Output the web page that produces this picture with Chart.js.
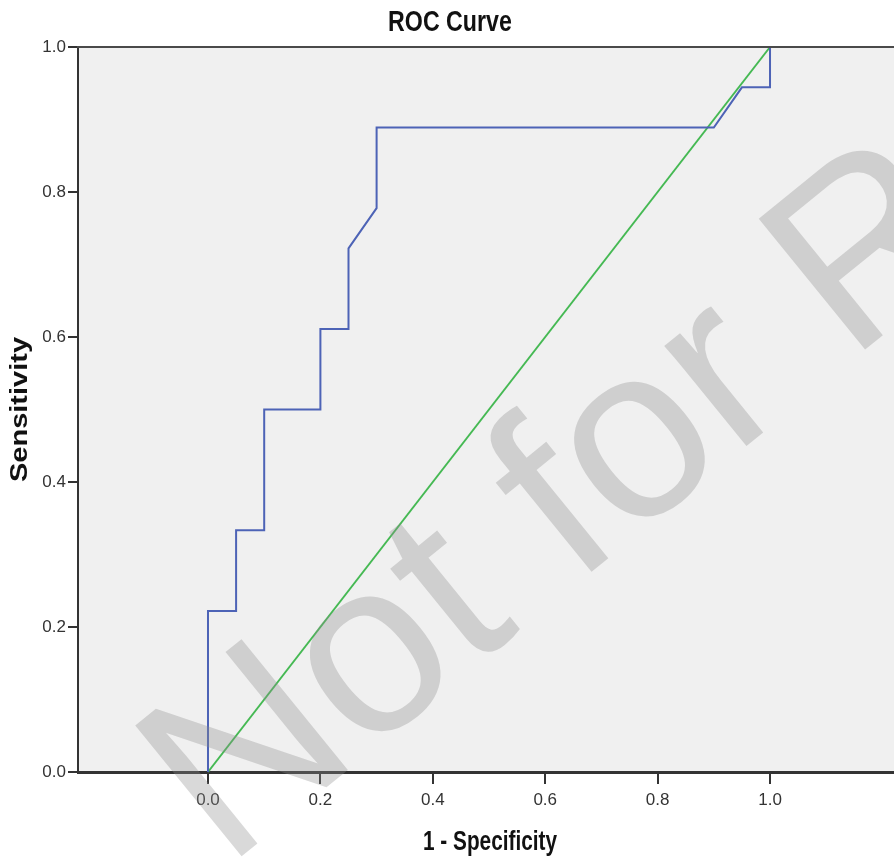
<!DOCTYPE html>
<html>
<head>
<meta charset="utf-8">
<script src="https://cdn.jsdelivr.net/npm/chart.js@4/dist/chart.umd.min.js"></script>
<style>
  html, body { margin: 0; padding: 0; background: #ffffff; }
  #wrap { width: 894px; height: 859px; position: relative; }
</style>
</head>
<body>
<div id="wrap"><canvas id="c" width="894" height="859"></canvas></div>
<script>
// ---- data ----
const fpr = [0, 0, 0.05, 0.05, 0.10, 0.10, 0.20, 0.20, 0.25, 0.25, 0.30, 0.30, 0.90, 0.95, 1.00, 1.00];
const tpr = [0, 0.2222, 0.2222, 0.3333, 0.3333, 0.5000, 0.5000, 0.6111, 0.6111, 0.7222, 0.7778, 0.8889, 0.8889, 0.9444, 0.9444, 1.0000];
const refX = [0, 1];
const refY = [0, 1];
const xTickValues = [0.0, 0.2, 0.4, 0.6, 0.8, 1.0];
const yTickValues = [0.0, 0.2, 0.4, 0.6, 0.8, 1.0];
const titleText = 'ROC Curve';
const xTitleText = '1 - Specificity';
const yTitleText = 'Sensitivity';
const watermarkText = 'Not for R';

const SANS = '"Liberation Sans", Arial, sans-serif';

function condensedText(ctx, text, x, y, font, sx, sy, rot) {
  ctx.save();
  ctx.translate(x, y);
  if (rot) ctx.rotate(rot);
  ctx.scale(sx, sy);
  ctx.font = font;
  ctx.fillStyle = '#111';
  ctx.textAlign = 'center';
  ctx.textBaseline = 'middle';
  ctx.fillText(text, 0, 0);
  ctx.restore();
}

const decor = {
  id: 'decor',
  beforeDraw(chart) {
    const {ctx, chartArea: a} = chart;
    ctx.save();
    ctx.fillStyle = '#f0f0f0';
    ctx.fillRect(a.left, a.top, a.right - a.left, a.bottom - a.top);
    ctx.restore();
  },
  afterDraw(chart) {
    const {ctx, chartArea: a} = chart;
    ctx.save();
    ctx.strokeStyle = '#4a4a4a';
    ctx.lineWidth = 2;
    ctx.beginPath();
    ctx.moveTo(a.left - 1, a.top);
    ctx.lineTo(a.right, a.top);
    ctx.stroke();
    ctx.restore();
    // titles (condensed like the reference)
    condensedText(ctx, titleText, 450, 23, 'bold 29px ' + SANS, 0.8, 1, 0);
    condensedText(ctx, xTitleText, 490, 843, 'bold 27px ' + SANS, 0.77, 1, 0);
    condensedText(ctx, yTitleText, 21, (a.top + a.bottom) / 2, 'bold 29px ' + SANS, 1, 0.8, -Math.PI / 2);
    // watermark
    ctx.save();
    ctx.translate(226, 869);
    ctx.rotate(-39.1 * Math.PI / 180);
    ctx.font = '245px ' + SANS;
    ctx.fillStyle = 'rgba(140,140,140,0.33)';
    ctx.textAlign = 'left';
    ctx.textBaseline = 'alphabetic';
    ctx.fillText(watermarkText, 0, 0);
    ctx.restore();
  }
};

new Chart(document.getElementById('c'), {
  type: 'scatter',
  data: {
    datasets: [
      {
        label: 'ROC',
        data: fpr.map((x, i) => ({x: x, y: tpr[i]})),
        showLine: true,
        borderColor: '#4d63b6',
        borderWidth: 2,
        pointRadius: 0,
        tension: 0,
        clip: 4
      },
      {
        label: 'Reference',
        data: refX.map((x, i) => ({x: x, y: refY[i]})),
        showLine: true,
        borderColor: '#45b953',
        borderWidth: 2,
        pointRadius: 0,
        tension: 0,
        clip: 4
      }
    ]
  },
  options: {
    responsive: false,
    animation: false,
    devicePixelRatio: 1,
    layout: { padding: { left: 0, right: 0, top: 47, bottom: 0 } },
    plugins: {
      legend: { display: false },
      tooltip: { enabled: false },
      title: { display: false }
    },
    scales: {
      x: {
        type: 'linear',
        min: -0.2313,
        max: 1.2206,
        afterBuildTicks: (s) => { s.ticks = xTickValues.map(v => ({value: v})); },
        afterFit: (s) => { s.height = 87; },
        border: { display: true, color: '#333', width: 3 },
        grid: { display: true, drawOnChartArea: false, drawTicks: true, tickLength: 12, color: '#333', lineWidth: 2 },
        ticks: {
          color: '#333',
          font: { family: SANS, size: 17 },
          padding: 6,
          maxRotation: 0,
          autoSkip: false,
          callback: (v) => Number(v).toFixed(1)
        },
        title: { display: false }
      },
      y: {
        type: 'linear',
        min: 0,
        max: 1,
        afterBuildTicks: (s) => { s.ticks = yTickValues.map(v => ({value: v})); },
        afterFit: (s) => { s.width = 78; },
        border: { display: true, color: '#333', width: 2 },
        grid: { display: true, drawOnChartArea: false, drawTicks: true, tickLength: 10, color: '#333', lineWidth: 2 },
        ticks: {
          color: '#333',
          font: { family: SANS, size: 17 },
          padding: 2,
          autoSkip: false,
          callback: (v) => Number(v).toFixed(1)
        },
        title: { display: false }
      }
    }
  },
  plugins: [decor]
});
</script>
</body>
</html>
